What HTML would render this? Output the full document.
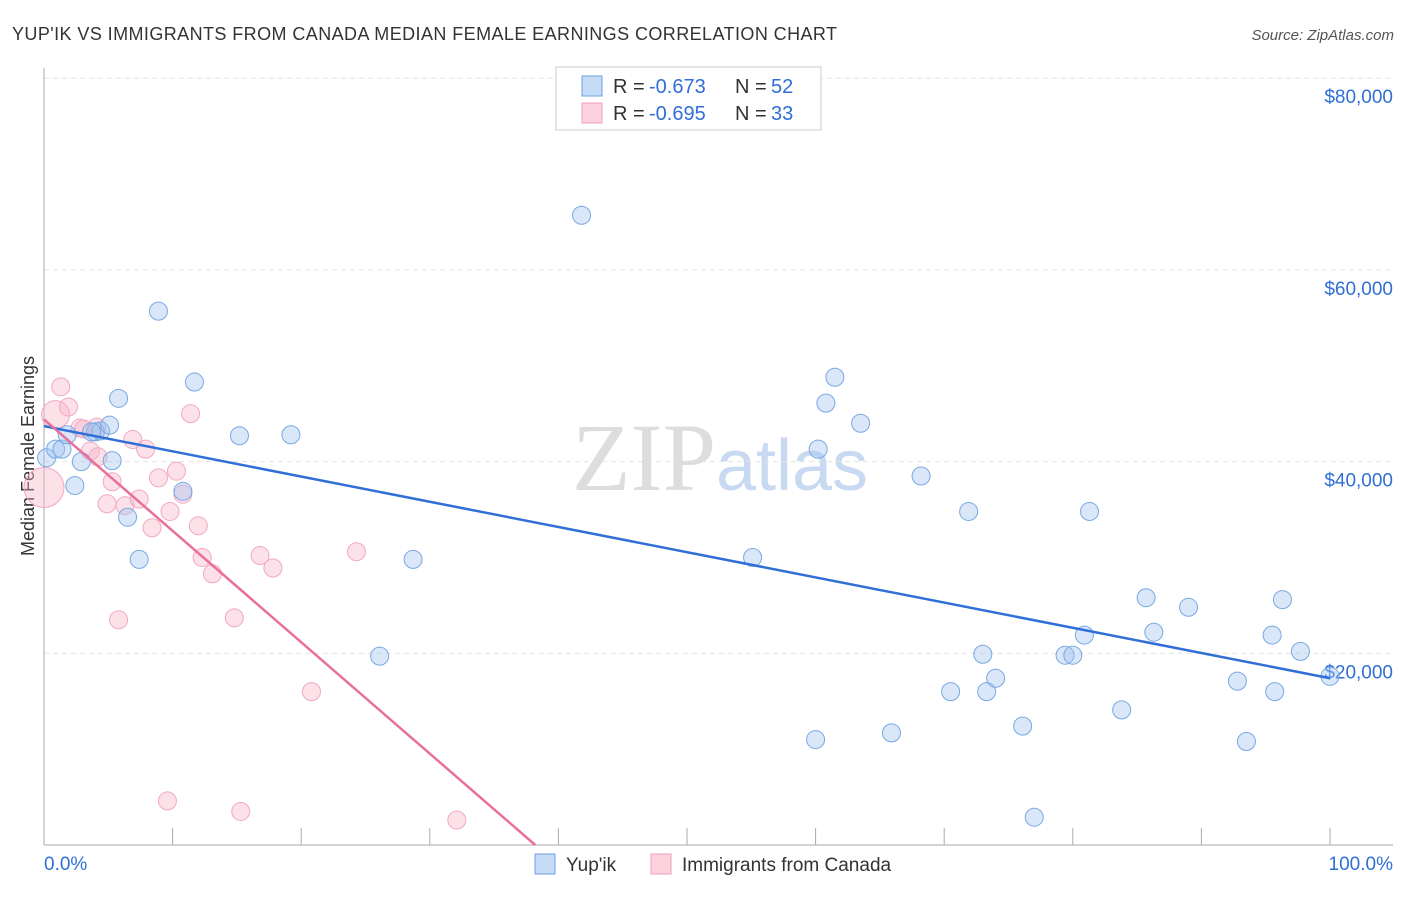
<!DOCTYPE html>
<html><head><meta charset="utf-8"><style>
body{margin:0;background:#fff;font-family:"Liberation Sans",sans-serif}
</style></head><body>
<svg id="chart" width="1406" height="892" xmlns="http://www.w3.org/2000/svg" font-family="Liberation Sans, sans-serif">
<text x="12" y="40" font-size="18" fill="#333" textLength="825">YUP'IK VS IMMIGRANTS FROM CANADA MEDIAN FEMALE EARNINGS CORRELATION CHART</text>
<text x="1394" y="40" font-size="15" fill="#555" text-anchor="end" font-style="italic">Source: ZipAtlas.com</text>
<text x="720" y="490" font-size="96" fill="#ddd" text-anchor="middle" font-family="Liberation Serif, serif">ZIP<tspan fill="#c8daf2" font-family="Liberation Sans, sans-serif" font-size="72">atlas</tspan></text>
<text transform="translate(34,456) rotate(-90)" font-size="18" fill="#333" text-anchor="middle">Median Female Earnings</text>
<g id="grid"></g><g id="axes"></g><g id="marks"></g>
<g>
<rect x="556" y="67" width="265" height="63" fill="#fff" stroke="#ccc"/>
<rect x="582" y="76" width="20" height="20" fill="rgba(160,196,240,0.6)" stroke="#6a9fe0"/>
<rect x="582" y="103" width="20" height="20" fill="rgba(248,180,200,0.6)" stroke="#f0a0b8"/>
<g font-size="20" fill="#333">
<text x="613" y="93">R =</text><text x="649" y="93" fill="#2f6fd6">-0.673</text><text x="735" y="93">N =</text><text x="771" y="93" fill="#2f6fd6">52</text>
<text x="613" y="120">R =</text><text x="649" y="120" fill="#2f6fd6">-0.695</text><text x="735" y="120">N =</text><text x="771" y="120" fill="#2f6fd6">33</text>
</g>
</g>
<g>
<rect x="535" y="854" width="20" height="20" fill="rgba(160,196,240,0.6)" stroke="#6a9fe0"/>
<text x="566" y="871" font-size="19" fill="#333">Yup'ik</text>
<rect x="651" y="854" width="20" height="20" fill="rgba(248,180,200,0.6)" stroke="#f0a0b8"/>
<text x="682" y="871" font-size="19" fill="#333">Immigrants from Canada</text>
</g>
</svg>
<script>
const yTicks=[20000,40000,60000,80000];
const yTickLabels=["$20,000","$40,000","$60,000","$80,000"];
const xTickLabels=["0.0%","100.0%"];
const blueX=[0.2,0.9,1.4,1.8,2.4,2.9,4.0,4.4,5.1,5.3,5.8,6.5,7.4,8.9,10.8,11.7,15.2,19.2,26.1,28.7,41.8,55.1,60.0,60.2,60.8,61.5,63.5,65.9,68.2,70.5,71.9,73.0,73.3,74.0,76.1,77.0,79.4,80.0,80.9,81.3,83.8,85.7,86.3,89.0,92.8,93.5,95.5,95.7,96.3,97.7,100.0,3.7];
const blueY=[40400,41300,41300,42800,37500,40000,43100,43200,43800,40100,46600,34200,29800,55700,36900,48300,42700,42800,19700,29800,65700,30000,11000,41300,46100,48800,44000,11700,38500,16000,34800,19900,16000,17400,12400,2900,19800,19800,21900,34800,14100,25800,22200,24800,17100,10800,21900,16000,25600,20200,17600,43100];
const pinkX=[0,0.9,1.3,1.9,2.8,3.1,3.6,4.2,4.9,5.3,5.8,6.3,6.9,7.4,7.9,8.4,8.9,9.6,9.8,10.3,10.8,11.4,12.0,12.3,13.1,14.8,15.3,16.8,17.8,20.8,24.3,32.1,4.1];
const pinkY=[37300,44900,47800,45700,43500,43400,41100,40500,35600,37900,23500,35400,42300,36100,41300,33100,38300,4600,34800,39000,36600,45000,33300,30000,28300,23700,3500,30200,28900,16000,30600,2600,43600];
const pinkR=[20,14,9,9,9,9,9,9,9,9,9,9,9,9,9,9,9,9,9,9,9,9,9,9,9,9,9,9,9,9,9,9,9];
const blueFit=[43700,17400];
const pinkFitStart=44400, pinkFitZeroX=38.2;
const X=v=>44+v*12.86, Y=v=>845-v*191.7/20000;
const NS="http://www.w3.org/2000/svg";
function mk(parent,tag,attrs){const e=document.createElementNS(NS,tag);for(const k in attrs)e.setAttribute(k,attrs[k]);document.getElementById(parent).appendChild(e);return e;}
yTicks.forEach((t,i)=>{
 const l=mk('grid','line',{x1:44,x2:1393,y1:Y(t),y2:Y(t),stroke:'#e2e2e2','stroke-dasharray':'5,4'});
 
 
 const tx=mk('axes','text',{x:1393,y:Y(t)+25,'font-size':19,fill:'#2f6fd6','text-anchor':'end'});
 tx.textContent=yTickLabels[i];
 
 
});
const ya=mk('axes','line',{x1:44,x2:44,y1:68,y2:845,stroke:'#aaa'});


const xa=mk('axes','line',{x1:44,x2:1393,y1:845,y2:845,stroke:'#aaa'});


for(let i=0;i<=10;i++){
 const t=mk('axes','line',{x1:X(i*10),x2:X(i*10),y1:828,y2:845,stroke:'#aaa'});
 
 
}
const xl0=mk('axes','text',{x:44,y:870,'font-size':19,fill:'#2f6fd6'});xl0.textContent=xTickLabels[0];


const xl1=mk('axes','text',{x:1393,y:870,'font-size':19,fill:'#2f6fd6','text-anchor':'end'});xl1.textContent=xTickLabels[1];


pinkX.forEach((v,i)=>{
 const c=mk('marks','circle',{cx:X(v),cy:Y(pinkY[i]),r:pinkR[i],fill:'rgba(248,180,200,0.4)',stroke:'#f2a8c0','stroke-width':1});
 
 
});
blueX.forEach((v,i)=>{
 const c=mk('marks','circle',{cx:X(v),cy:Y(blueY[i]),r:9,fill:'rgba(160,196,240,0.4)',stroke:'#78a8e4','stroke-width':1});
 
 
});
const bl=mk('marks','line',{x1:X(0),y1:Y(blueFit[0]),x2:X(100),y2:Y(blueFit[1]),stroke:'#2f6fd6','stroke-width':2.5});


const pl=mk('marks','line',{x1:X(0),y1:Y(pinkFitStart),x2:X(pinkFitZeroX),y2:Y(0),stroke:'#e8709a','stroke-width':2.5});


</script>
</body></html>
